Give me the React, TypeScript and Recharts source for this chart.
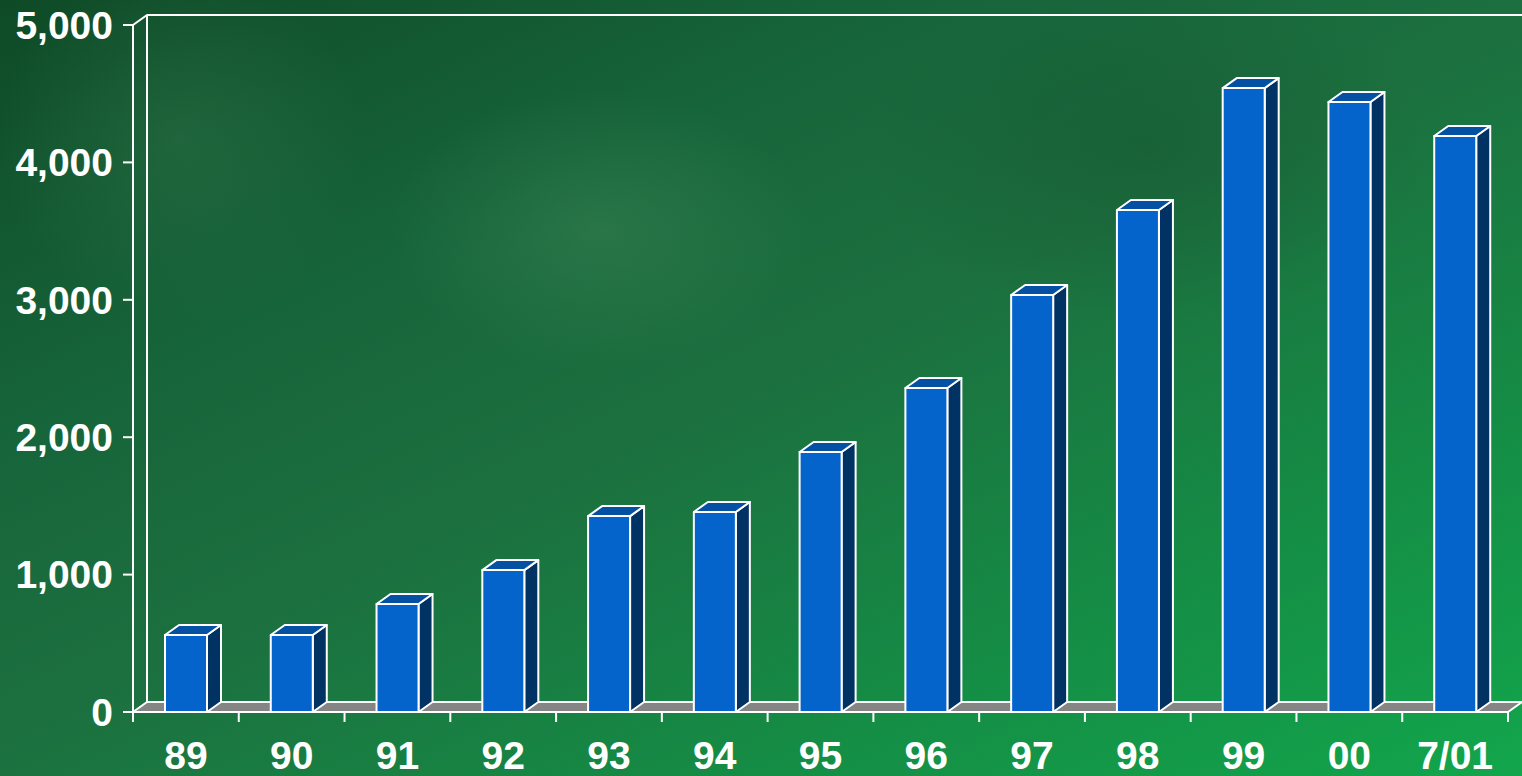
import { Bar, BarChart, ReferenceArea, XAxis, YAxis } from "recharts";

const YEARS = ["89", "90", "91", "92", "93", "94", "95", "96", "97", "98", "99", "00", "7/01"];
const TOTALS = [560, 560, 786, 1033, 1426, 1456, 1892, 2358, 3035, 3654, 4541, 4440, 4192];
const Y_TICKS = [0, 1000, 2000, 3000, 4000, 5000];

const data = YEARS.map((year, i) => ({ year, total: TOTALS[i] }));

const FONT = '"Liberation Sans", Arial, Helvetica, sans-serif';
const DX = 14;
const DY = 10;
const FRONT = "#0563cc";
const SIDE = "#003264";
const TOP = "#0450a2";
const FLOOR = "#858585";

function Bar3D(props: any) {
  const { x, y, width, height } = props;
  if (height == null || width == null) return null;
  const r = x + width;
  const b = y + height;
  return (
    <g stroke="#ffffff" strokeWidth={2} strokeLinejoin="round">
      <polygon
        points={`${r},${y} ${r + DX},${y - DY} ${r + DX},${b - DY} ${r},${b}`}
        fill={SIDE}
      />
      <polygon
        points={`${x},${y} ${x + DX},${y - DY} ${r + DX},${y - DY} ${r},${y}`}
        fill={TOP}
      />
      <rect x={x} y={y} width={width} height={height} fill={FRONT} />
    </g>
  );
}

// floor + back wall, from the plot rectangle that the reference area covers
function Frame(props: any) {
  const { x, y, width, height } = props;
  const r = x + width;
  const b = y + height;
  return (
    <g stroke="#ffffff" strokeWidth={2} fill="none" strokeLinejoin="round">
      <polyline points={`${x},${y} ${x + DX},${y - DY} ${r + DX + 40},${y - DY}`} />
      <line x1={x + DX} y1={y - DY} x2={x + DX} y2={b - DY} />
      <polygon
        points={`${x},${b} ${r},${b} ${r + DX},${b - DY} ${x + DX},${b - DY}`}
        fill={FLOOR}
      />
    </g>
  );
}

function XTick(props: any) {
  const { x, y, payload, index } = props;
  const half = payload?.offset ?? 1375 / YEARS.length / 2;
  return (
    <g>
      <line x1={x - half} y1={y} x2={x - half} y2={y + 10} stroke="#ffffff" strokeWidth={2} />
      {index === YEARS.length - 1 && (
        <line x1={x + half} y1={y} x2={x + half} y2={y + 10} stroke="#ffffff" strokeWidth={2} />
      )}
      <text
        x={x}
        y={y + 57}
        textAnchor="middle"
        fill="#ffffff"
        fontFamily={FONT}
        fontWeight="bold"
        fontSize={39}
      >
        {payload.value}
      </text>
    </g>
  );
}

export default function App() {
  return (
    <div
      style={{
        position: "absolute",
        left: 0,
        top: 0,
        width: 1522,
        height: 776,
        overflow: "hidden",
        background:
          "radial-gradient(ellipse 300px 200px at 600px 230px, rgba(80,150,100,0.3), rgba(0,0,0,0) 70%)," +
          "radial-gradient(ellipse 260px 260px at 180px 140px, rgba(70,140,95,0.25), rgba(0,0,0,0) 70%)," +
          "radial-gradient(ellipse 400px 250px at 1150px 150px, rgba(20,70,40,0.3), rgba(0,0,0,0) 70%)," +
          "linear-gradient(155deg, #0e4a26 0%, #17653b 30%, #1c703f 50%, #158c45 75%, #12a64c 100%)",
      }}
    >
      <BarChart
        width={1522}
        height={776}
        data={data}
        margin={{ top: 25, right: 14, bottom: 0, left: 0 }}
        barSize={42}
      >
        <ReferenceArea y1={0} y2={5000} shape={<Frame />} ifOverflow="visible" />
        <XAxis
          dataKey="year"
          height={64}
          axisLine={{ stroke: "#ffffff", strokeWidth: 2 }}
          tickLine={false}
          tickSize={0}
          tickMargin={0}
          tick={<XTick />}
          interval={0}
        />
        <YAxis
          width={133}
          domain={[0, 5000]}
          ticks={Y_TICKS}
          tickFormatter={(v: number) => v.toLocaleString("en-US")}
          axisLine={{ stroke: "#ffffff", strokeWidth: 2 }}
          tickLine={{ stroke: "#ffffff", strokeWidth: 2 }}
          tickSize={10}
          tickMargin={10}
          tick={{ fill: "#ffffff", fontFamily: FONT, fontWeight: "bold", fontSize: 39 }}
        />
        <Bar dataKey="total" shape={<Bar3D />} isAnimationActive={false} />
      </BarChart>
    </div>
  );
}
